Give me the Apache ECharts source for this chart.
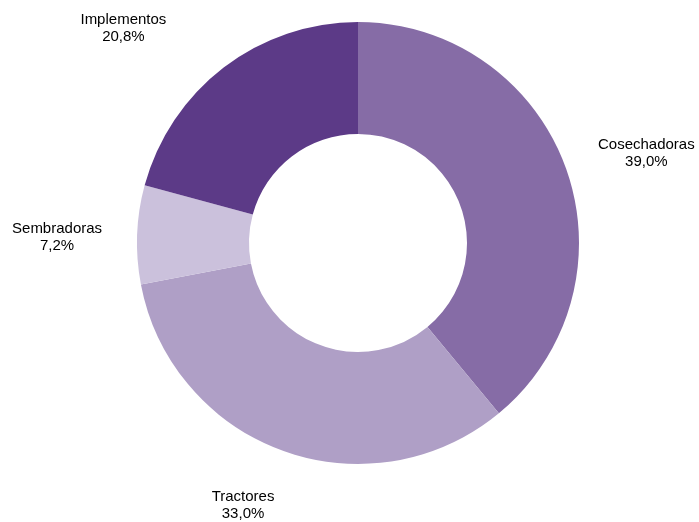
<!DOCTYPE html>
<html>
<head>
<meta charset="utf-8">
<script src="https://cdn.jsdelivr.net/npm/echarts@6/dist/echarts.min.js"></script>
<style>
html,body{margin:0;padding:0;background:#fff;}
#chart{width:699px;height:522px;}
</style>
</head>
<body>
<div id="chart"></div>
<script>
const categories = ['Cosechadoras', 'Tractores', 'Sembradoras', 'Implementos'];
const shares = [39.0, 33.0, 7.2, 20.8];
const labelTexts = ['39,0%', '33,0%', '7,2%', '20,8%'];

const colors = ['#866ca6', '#af9fc6', '#cbc1dc', '#5c3a87'];
const CX = 358, CY = 243, R_IN = 109, R_OUT = 221;
// label placement: distance from centre (px) and angle tweak (deg) relative to slice bisector
const labelDist = [302, 286, 301, 318];
const labelAngleTweak = [2.5, 3.9, -1.1, -10.1];

const total = shares.reduce((a, b) => a + b, 0);
const mids = [];
let acc = 0;
shares.forEach(v => { mids.push((acc + v / 2) / total * 360); acc += v; });

const chart = echarts.init(document.getElementById('chart'), null, {renderer: 'canvas'});
chart.setOption({
  animation: false,
  backgroundColor: '#ffffff',
  series: [{
    type: 'pie',
    center: [CX, CY],
    radius: [R_IN, R_OUT],
    startAngle: 90,
    clockwise: true,
    avoidLabelOverlap: false,
    silent: true,
    data: categories.map((c, i) => ({
      name: c,
      value: shares[i],
      itemStyle: {color: colors[i]}
    })),
    itemStyle: {borderWidth: 0},
    label: {
      show: true,
      position: 'outside',
      formatter: p => p.name + '\n' + labelTexts[p.dataIndex],
      fontFamily: 'Liberation Sans, Arial, sans-serif',
      fontSize: 15,
      lineHeight: 17,
      color: '#000000',
      align: 'center'
    },
    labelLine: {show: false},
    labelLayout: function (p) {
      const i = p.dataIndex;
      const a = (mids[i] + labelAngleTweak[i]) * Math.PI / 180;
      const d = labelDist[i];
      return {
        x: CX + d * Math.sin(a),
        y: CY - d * Math.cos(a),
        align: 'center',
        verticalAlign: 'middle'
      };
    }
  }]
});
</script>
</body>
</html>
